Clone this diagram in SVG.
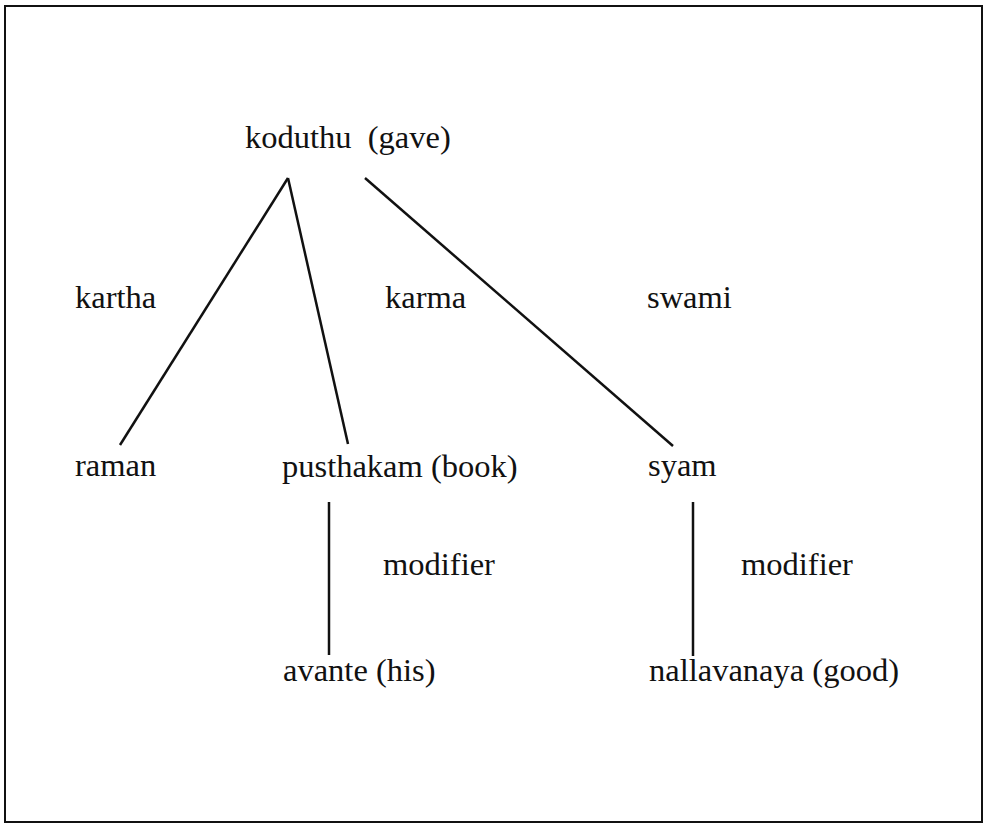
<svg xmlns="http://www.w3.org/2000/svg" width="989" height="826" viewBox="0 0 989 826">
<style>
.lbl{font-family:"Liberation Serif","Times New Roman",serif;font-size:32.5px;fill:#111}
.edge{stroke:#111;stroke-width:2.5;fill:none;stroke-linecap:butt}
</style>
<rect x="0" y="0" width="989" height="826" fill="#fff"/>
<rect id="frame" x="5" y="6" width="977" height="816" fill="none" stroke="#111" stroke-width="2"/>
<g id="connectors">
<line class="edge" x1="288" y1="178" x2="120" y2="445"/>
<line class="edge" x1="288" y1="178" x2="348" y2="444"/>
<line class="edge" x1="365" y1="178" x2="673" y2="446"/>
<line class="edge" x1="329" y1="502" x2="329" y2="655"/>
<line class="edge" x1="693" y1="502" x2="693" y2="656"/>
</g>
<g id="edge-labels">
<text class="lbl" x="75" y="308">kartha</text>
<text class="lbl" x="385" y="308">karma</text>
<text class="lbl" x="647" y="308">swami</text>
<text class="lbl" x="383" y="575">modifier</text>
<text class="lbl" x="741" y="575">modifier</text>
</g>
<g id="node-koduthu"><text class="lbl" x="245" y="148" xml:space="preserve">koduthu  (gave)</text></g>
<g id="node-raman"><text class="lbl" x="75" y="476">raman</text></g>
<g id="node-pusthakam"><text class="lbl" x="282" y="477">pusthakam (book)</text></g>
<g id="node-syam"><text class="lbl" x="648" y="476">syam</text></g>
<g id="node-avante"><text class="lbl" x="283" y="681">avante (his)</text></g>
<g id="node-nallavanaya"><text class="lbl" x="649" y="681">nallavanaya (good)</text></g>
</svg>
